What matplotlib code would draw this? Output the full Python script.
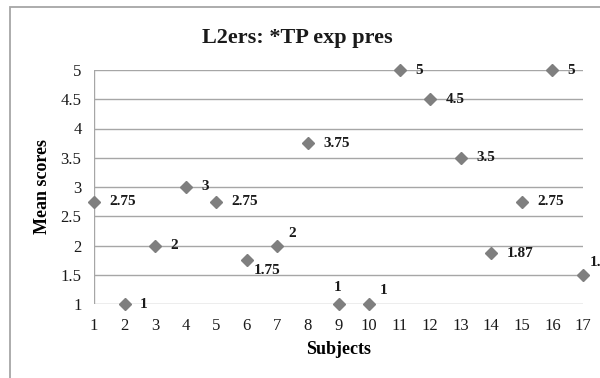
import matplotlib.pyplot as plt
from matplotlib.patches import Rectangle

DPI = 100

subjects = [1, 2, 3, 4, 5, 6, 7, 8, 9, 10, 11, 12, 13, 14, 15, 16, 17]
scores = [2.75, 1, 2, 3, 2.75, 1.75, 2, 3.75, 1, 1, 5, 4.5, 3.5, 1.87, 2.75, 5, 1.5]
labels = ["2.75", "1", "2", "3", "2.75", "1.75", "2", "3.75", "1", "1",
          "5", "4.5", "3.5", "1.87", "2.75", "5", "1.5"]
yticks = [1, 1.5, 2, 2.5, 3, 3.5, 4, 4.5, 5]
ytick_labels = ["1", "1.5", "2", "2.5", "3", "3.5", "4", "4.5", "5"]

# label offsets in points (dx, dy, ha, va); default: to the right
offsets = {
    6: (5, -3, "left", "top"),
    7: (8, 4, "left", "bottom"),
    9: (-1, 7, "center", "bottom"),
    10: (8, 5, "left", "bottom"),
    17: (5, 4, "left", "bottom"),
}

plt.rcParams['font.family'] = ['Liberation Serif', 'DejaVu Serif']

fig = plt.figure(figsize=(600 / DPI, 378 / DPI), dpi=DPI)

# chart border (extends past right/bottom edges)
fig.patches.append(Rectangle((10 / 600, -0.1), 1.2, (378 - 7) / 378 + 0.1,
                             transform=fig.transFigure, fill=False,
                             edgecolor='#a6a6a6', lw=1.3))

ax = fig.add_axes([94 / 600, (378 - 304) / 378, 489 / 600, 234 / 378])
ax.set_xlim(1, 17)
ax.set_ylim(1, 5)

for y in yticks:
    ax.axhline(y, color='#a6a6a6', lw=1.0, zorder=1)
ax.axvline(1, color='#a6a6a6', lw=1.0, zorder=1)
for s in ax.spines.values():
    s.set_visible(False)

ax.plot(subjects, scores, linestyle='none', marker='D', markersize=6.6,
        color='#7f7f7f', clip_on=False, zorder=3)

for x, y, lab in zip(subjects, scores, labels):
    dx, dy, ha, va = offsets.get(x, (11, 0, "left", "center"))
    ax.annotate(lab, (x, y), xytext=(dx, dy), textcoords='offset points',
                ha=ha, va=va, fontsize=11, fontweight='bold', color='#1a1a1a',
                annotation_clip=False)

ax.set_xticks(subjects)
ax.set_xticklabels([str(s) for s in subjects])
ax.set_yticks(yticks)
ax.set_yticklabels(ytick_labels)
ax.tick_params(length=0, labelsize=12, labelcolor='#1a1a1a')
ax.tick_params(axis='x', pad=10)
ax.tick_params(axis='y', pad=9)

ax.set_xlabel("Subjects", fontsize=13, fontweight='bold', labelpad=5)
ax.set_ylabel("Mean scores", fontsize=13, fontweight='bold', labelpad=7)
fig.text(297 / 600, 1 - 38 / 378, "L2ers: *TP exp pres", ha='center', va='center',
         fontsize=16, fontweight='bold', color='#1a1a1a')

plt.savefig('out.png', dpi=DPI)
